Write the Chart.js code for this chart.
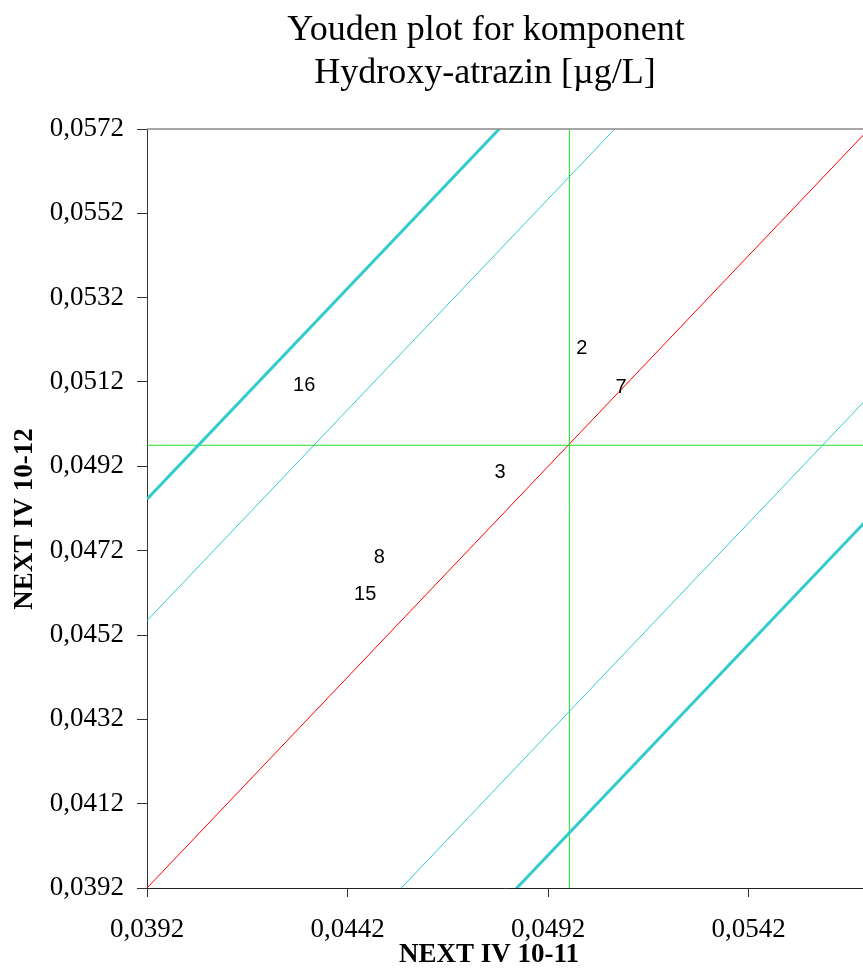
<!DOCTYPE html>
<html>
<head>
<meta charset="utf-8">
<title>Youden plot – Hydroxy-atrazin</title>
<script src="https://cdn.jsdelivr.net/npm/chart.js@4.4.1/dist/chart.umd.min.js"></script>
<style>
  html, body { margin: 0; padding: 0; background: #fff; }
  canvas { display: block; }
</style>
</head>
<body>
<canvas id="youden" width="863" height="968"></canvas>
<script>
/* ---------- data ---------- */
const labIds  = ['2', '7', '16', '3', '8', '15'];
const sampleA = [0.05004, 0.05102, 0.04312, 0.04800, 0.04499, 0.04464]; // NEXT IV 10-11
const sampleB = [0.05199, 0.05106, 0.05111, 0.04906, 0.04705, 0.04615]; // NEXT IV 10-12

const medianA = 0.04973;
const medianB = 0.04970;
const innerLimit = 0.00634;   // thin band around the diagonal
const outerLimit = 0.00922;   // thick band

const axisMin = 0.0392, axisMaxX = 0.05705, axisMaxY = 0.0572;
const xTicks = [0.0392, 0.0442, 0.0492, 0.0542];
const yTicks = [0.0392, 0.0412, 0.0432, 0.0452, 0.0472, 0.0492, 0.0512, 0.0532, 0.0552, 0.0572];

/* ---------- helpers ---------- */
const fmt = v => Number(v).toFixed(4).replace('.', ',');
const diag = d => [{ x: axisMin, y: axisMin + d }, { x: axisMaxY, y: axisMaxY + d }];
const SERIF = "'Liberation Serif', 'Times New Roman', serif";
const SANS = "'Liberation Sans', Arial, sans-serif";

const lineSet = (data, color, width) => ({
  data, showLine: true, borderColor: color, borderWidth: width,
  pointRadius: 0, pointHoverRadius: 0, fill: false
});

/* ---------- text + frame ---------- */
const youdenText = {
  id: 'youdenText',
  afterDatasetsDraw(chart) {
    const ctx = chart.ctx;
    const meta = chart.getDatasetMeta(chart.data.datasets.length - 1);
    ctx.save();
    ctx.fillStyle = '#000';
    ctx.font = '20px ' + SANS;
    ctx.textAlign = 'center';
    ctx.textBaseline = 'middle';
    meta.data.forEach((pt, i) => ctx.fillText(labIds[i], pt.x, pt.y));
    ctx.restore();
  },
  afterDraw(chart) {
    const { ctx, chartArea: a } = chart;
    ctx.save();
    // top frame line
    ctx.strokeStyle = '#8a8a8a';
    ctx.lineWidth = 1.5;
    ctx.beginPath();
    ctx.moveTo(a.left, a.top);
    ctx.lineTo(a.right, a.top);
    ctx.stroke();

    ctx.fillStyle = '#000';
    ctx.textAlign = 'center';
    ctx.textBaseline = 'alphabetic';
    ctx.font = '36px ' + SERIF;
    ctx.fillText('Youden plot for komponent', 486, 40);
    ctx.fillText('Hydroxy-atrazin [µg/L]', 485, 83);

    ctx.font = 'bold 27px ' + SERIF;
    ctx.fillText('NEXT IV 10-11', 489, 962);
    ctx.translate(32, 519);
    ctx.rotate(-Math.PI / 2);
    ctx.fillText('NEXT IV 10-12', 0, 0);
    ctx.restore();
  }
};

/* ---------- chart ---------- */
new Chart(document.getElementById('youden').getContext('2d'), {
  type: 'scatter',
  data: {
    datasets: [
      lineSet(diag(outerLimit), '#33cccc', 3),
      lineSet(diag(-outerLimit), '#33cccc', 3),
      lineSet(diag(innerLimit), '#33cccc', 1),
      lineSet(diag(-innerLimit), '#33cccc', 1),
      lineSet([{ x: medianA, y: axisMin }, { x: medianA, y: axisMaxY }], '#22dd22', 1),
      lineSet([{ x: axisMin, y: medianB }, { x: axisMaxX, y: medianB }], '#22dd22', 1),
      lineSet(diag(0), '#ff0000', 1),
      {
        data: sampleA.map((a, i) => ({ x: a, y: sampleB[i] })),
        pointRadius: 0, pointHoverRadius: 0, showLine: false
      }
    ]
  },
  options: {
    responsive: false,
    animation: false,
    layout: { padding: { top: 129, left: 0, right: 0, bottom: 0 } },
    plugins: { legend: { display: false }, tooltip: { enabled: false } },
    scales: {
      x: {
        type: 'linear', min: axisMin, max: axisMaxX,
        afterBuildTicks: s => { s.ticks = xTicks.map(v => ({ value: v })); },
        afterFit: s => { s.height = 80; },
        ticks: { callback: fmt, color: '#000', font: { family: SERIF, size: 27 }, padding: 17, maxRotation: 0, autoSkip: false },
        grid: { drawOnChartArea: false, tickLength: 9, tickColor: '#333' },
        border: { color: '#222', width: 1 }
      },
      y: {
        type: 'linear', min: axisMin, max: axisMaxY,
        afterBuildTicks: s => { s.ticks = yTicks.map(v => ({ value: v })); },
        afterFit: s => { s.width = 147; },
        ticks: { callback: fmt, color: '#000', font: { family: SERIF, size: 27 }, padding: 13, autoSkip: false },
        grid: { drawOnChartArea: false, tickLength: 10, tickColor: '#333' },
        border: { color: '#333', width: 1 }
      }
    }
  },
  plugins: [youdenText]
});
</script>
</body>
</html>
